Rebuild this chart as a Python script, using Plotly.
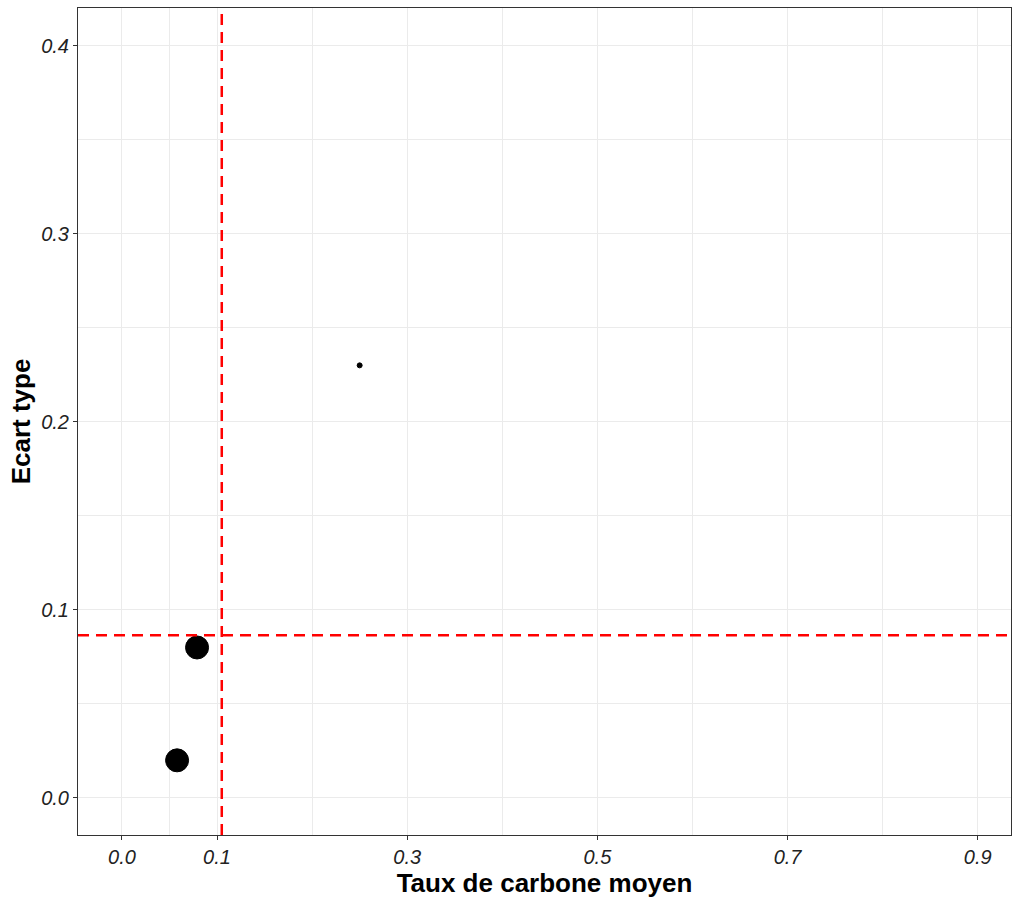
import plotly.graph_objects as go

# Data
taux_carbone = [0.058, 0.079, 0.250]
ecart_type = [0.020, 0.080, 0.230]
point_sizes = [23, 23, 5]
seuil_x = 0.105
seuil_y = 0.0865

x_breaks = [0.0, 0.1, 0.3, 0.5, 0.7, 0.9]
x_labels = ["0.0", "0.1", "0.3", "0.5", "0.7", "0.9"]
x_minor = [0.05, 0.2, 0.4, 0.6, 0.8]
y_breaks = [0.0, 0.1, 0.2, 0.3, 0.4]
y_labels = ["0.0", "0.1", "0.2", "0.3", "0.4"]
y_minor = [0.05, 0.15, 0.25, 0.35]

fig = go.Figure()
fig.add_trace(go.Scatter(
    x=taux_carbone, y=ecart_type, mode="markers",
    marker=dict(color="#000000", size=point_sizes, opacity=1,
                line=dict(width=1, color="#000000")),
    showlegend=False, opacity=1, hoverinfo="skip",
))

fig.add_shape(type="line", xref="x", yref="paper", x0=seuil_x, x1=seuil_x, y0=0, y1=1,
              line=dict(color="#FF0000", width=2.5, dash="11px,7px"))
fig.add_shape(type="line", xref="paper", yref="y", x0=0, x1=1, y0=seuil_y, y1=seuil_y,
              line=dict(color="#FF0000", width=2.5, dash="11px,7px"))

tick_font = dict(family="Liberation Sans, Arial, sans-serif", size=20, color="#222222")
title_font = dict(family="Liberation Sans, Arial, sans-serif", size=26, color="black")

fig.update_xaxes(
    range=[-0.0462, 0.935],
    tickmode="array", tickvals=x_breaks, ticktext=[f"<i>{t}</i>" for t in x_labels],
    tickfont=tick_font, ticks="outside", ticklen=4, tickcolor="#333333", tickwidth=1,
    showgrid=True, gridcolor="#EBEBEB", gridwidth=1.2,
    minor=dict(tickmode="array", tickvals=x_minor, showgrid=True, gridcolor="#EBEBEB", gridwidth=0.8, ticks=""),
    zeroline=False, showline=True, linecolor="#333333", linewidth=1, mirror=True,
    title=dict(text="<b>Taux de carbone moyen</b>", font=title_font, standoff=4),
    automargin=False,
)
fig.update_yaxes(
    range=[-0.0197, 0.420],
    tickmode="array", tickvals=y_breaks, ticktext=[f"<i>{t}</i>" for t in y_labels],
    tickfont=tick_font, ticks="outside", ticklen=4, tickcolor="#333333", tickwidth=1,
    showgrid=True, gridcolor="#EBEBEB", gridwidth=1.2,
    minor=dict(tickmode="array", tickvals=y_minor, showgrid=True, gridcolor="#EBEBEB", gridwidth=0.8, ticks=""),
    zeroline=False, showline=True, linecolor="#333333", linewidth=1, mirror=True,
    title=dict(text="<b>Ecart type</b>", font=title_font, standoff=3),
    automargin=False,
)

fig.update_layout(
    width=1012, height=898,
    margin=dict(l=78, r=1, t=8, b=63),
    paper_bgcolor="white", plot_bgcolor="white",
)

fig.write_html("out.html", config={"displayModeBar": False},
               post_script="document.body.style.margin='0';document.body.style.overflow='hidden';")
